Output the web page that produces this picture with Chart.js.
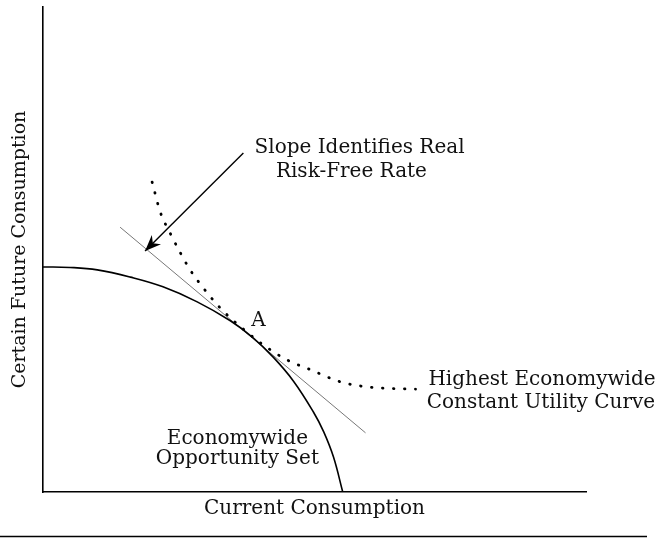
<!DOCTYPE html>
<html><head><meta charset="utf-8">
<script src="https://cdn.jsdelivr.net/npm/chart.js@4"></script>
<style>html,body{margin:0;padding:0;background:#fff}canvas{display:block}</style>
</head><body>
<canvas id="c" width="657" height="538"></canvas>
<script>
// Economywide opportunity set (concave frontier)
const opportunityX = [0, 0.50, 1.00, 1.61, 2.21, 2.84, 3.45, 3.87, 4.24, 4.61, 4.98, 5.17, 5.35, 5.52];
const opportunityY = [4.64, 4.63, 4.58, 4.43, 4.23, 3.92, 3.53, 3.18, 2.78, 2.29, 1.65, 1.24, 0.72, 0];
// Highest economywide constant utility curve (dotted)
const utilityX = [2.01, 2.16, 2.34, 2.53, 2.71, 2.95, 3.21, 3.45, 3.73, 4.06, 4.50, 4.93, 5.48, 6.03, 6.86];
const utilityY = [6.39, 5.77, 5.34, 4.93, 4.58, 4.21, 3.86, 3.59, 3.32, 3.03, 2.72, 2.52, 2.27, 2.16, 2.12];
// Tangent line through A (real risk-free rate)
const tangentX = [1.42, 5.94];
const tangentY = [5.46, 1.22];
// Arrow from label to tangent line
const arrowX = [3.69, 1.88];
const arrowY = [6.99, 4.97];
// Axis titles
const xTitle = 'Current Consumption';
const yTitle = 'Certain Future Consumption';
// Annotation texts
const annotationTexts = ['Slope Identifies Real', 'Risk-Free Rate', 'A', 'Economywide', 'Opportunity Set', 'Highest Economywide', 'Constant Utility Curve'];

const toPts = (xs, ys) => xs.map((x, i) => ({x, y: ys[i]}));
const FONT = 'DejaVu Serif';
const INK = '#111';

const annotationPlugin = {
  id: 'annot',
  afterDatasetsDraw(chart, args, opts) {
    const {ctx, scales: {x, y}} = chart;
    ctx.save();
    // arrowhead at the end of the arrow dataset
    const meta = chart.getDatasetMeta(3);
    const p0 = meta.data[0], p1 = meta.data[1];
    const dx = p0.x - p1.x, dy = p0.y - p1.y, L = Math.hypot(dx, dy);
    const ux = dx / L, uy = dy / L, nx = -uy, ny = ux;
    const len = 16, hw = 6.5, notch = 11;
    ctx.fillStyle = '#000';
    ctx.beginPath();
    ctx.moveTo(p1.x, p1.y);
    ctx.lineTo(p1.x + ux * len + nx * hw, p1.y + uy * len + ny * hw);
    ctx.lineTo(p1.x + ux * notch, p1.y + uy * notch);
    ctx.lineTo(p1.x + ux * len - nx * hw, p1.y + uy * len - ny * hw);
    ctx.closePath();
    ctx.fill();
    // text labels
    ctx.fillStyle = INK;
    ctx.textAlign = 'center';
    ctx.textBaseline = 'middle';
    ctx.font = opts.size + 'px "' + FONT + '"';
    opts.anchors.forEach((a, i) => {
      ctx.fillText(annotationTexts[i], x.getPixelForValue(a[0]), y.getPixelForValue(a[1]));
    });
    // rule under the figure
    ctx.strokeStyle = '#000';
    ctx.lineWidth = 1.5;
    ctx.beginPath();
    ctx.moveTo(0, 536.5);
    ctx.lineTo(647, 536.5);
    ctx.stroke();
    ctx.restore();
  }
};

new Chart(document.getElementById('c'), {
  type: 'scatter',
  data: {
    datasets: [
      {data: toPts(opportunityX, opportunityY), showLine: true, borderColor: '#000', borderWidth: 1.6, pointRadius: 0, tension: 0.4, fill: false},
      {data: toPts(utilityX, utilityY), showLine: true, borderColor: '#000', borderWidth: 2.8, borderDash: [0.5, 10.5], borderCapStyle: 'round', pointRadius: 0, cubicInterpolationMode: 'monotone', fill: false},
      {data: toPts(tangentX, tangentY), showLine: true, borderColor: '#777', borderWidth: 1, pointRadius: 0, fill: false},
      {data: toPts(arrowX, arrowY), showLine: true, borderColor: '#000', borderWidth: 1.4, pointRadius: 0, fill: false}
    ]
  },
  options: {
    responsive: false,
    animation: false,
    devicePixelRatio: 1,
    layout: {padding: {left: 0, top: 7, right: 71, bottom: 0}},
    plugins: {
      legend: {display: false},
      tooltip: {enabled: false},
      annot: {
        size: 20,
        anchors: [[5.83, 7.09], [5.68, 6.60], [3.97, 3.53], [3.58, 1.09], [3.58, 0.68], [9.19, 2.31], [9.17, 1.84]]
      }
    },
    scales: {
      x: {
        type: 'linear', min: 0, max: 10,
        grid: {display: false},
        ticks: {display: false},
        border: {display: true, color: '#000', width: 1.6},
        title: {display: true, text: xTitle, color: INK, font: {family: FONT, size: 20}, padding: {top: 0, bottom: 17}},
        afterFit: s => { s.height = 46; }
      },
      y: {
        type: 'linear', min: 0, max: 10,
        grid: {display: false},
        ticks: {display: false},
        border: {display: true, color: '#000', width: 1.6},
        title: {display: true, text: yTitle, color: INK, font: {family: FONT, size: 19}, padding: {top: 9, bottom: 0}},
        afterFit: s => { s.width = 43; }
      }
    }
  },
  plugins: [annotationPlugin]
});
</script>
</body></html>
